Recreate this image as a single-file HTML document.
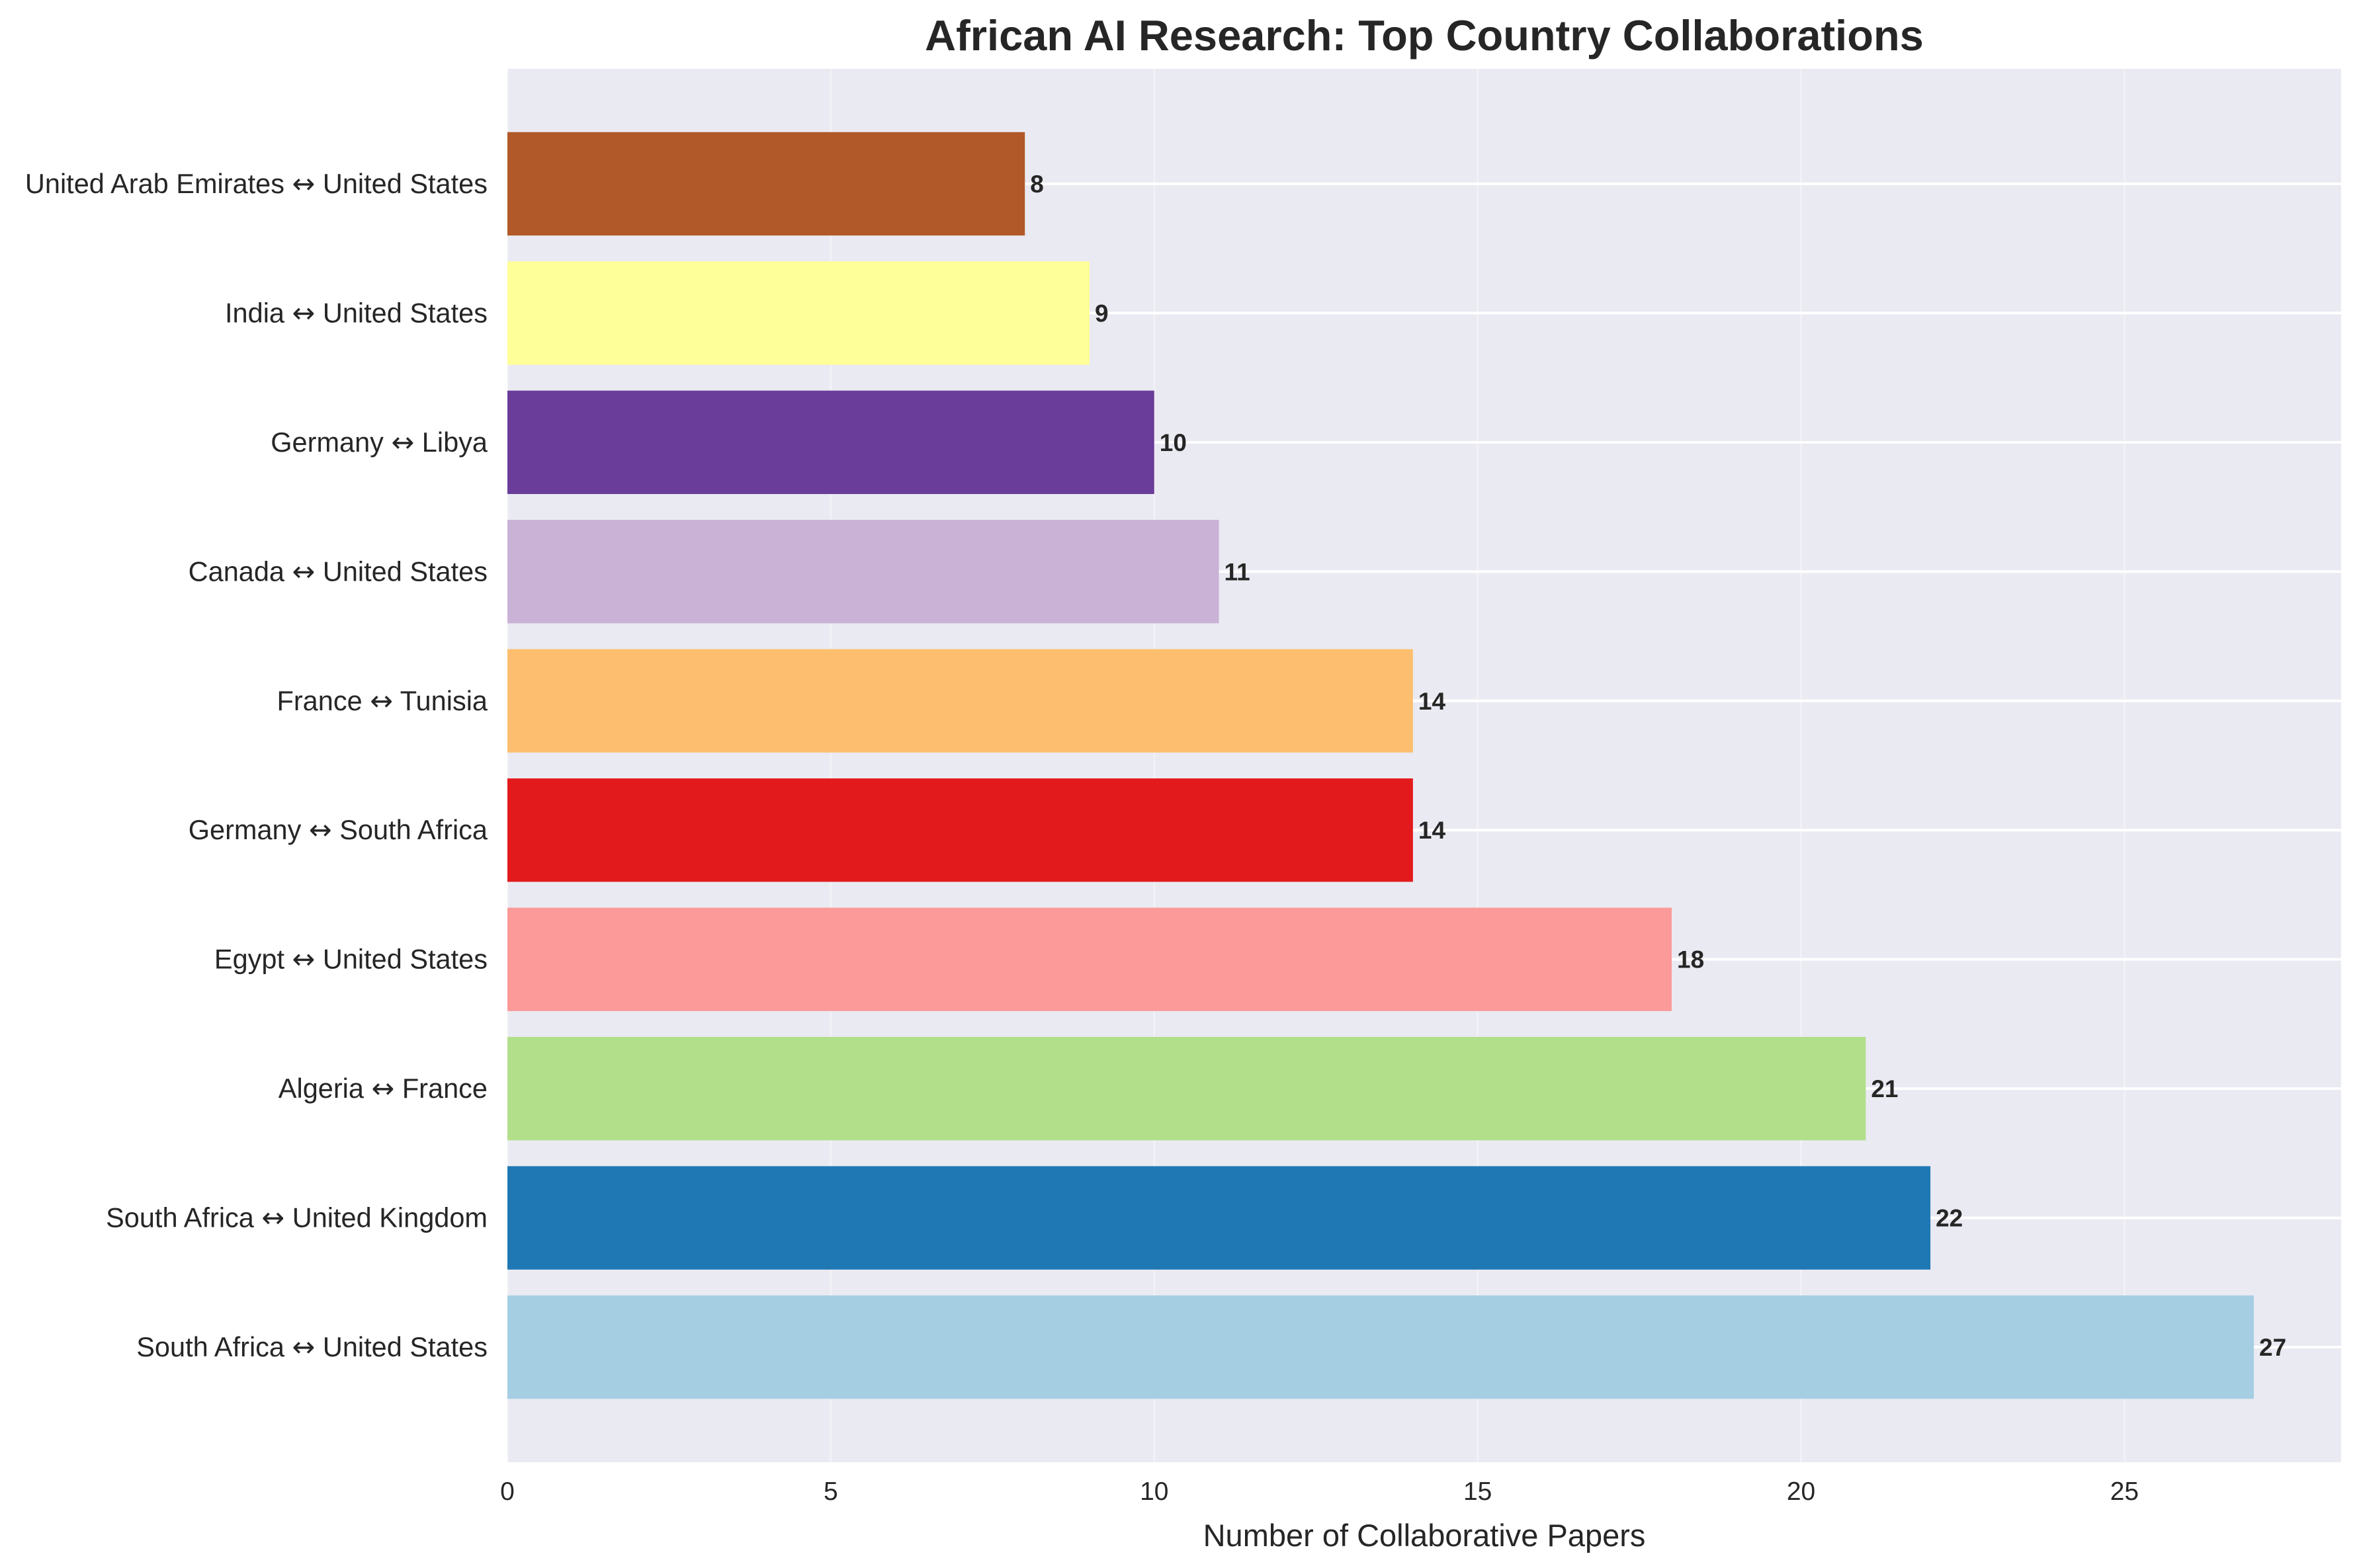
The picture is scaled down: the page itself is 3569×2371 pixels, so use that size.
<!DOCTYPE html>
<html><head><meta charset="utf-8"><style>
html,body{margin:0;padding:0;background:#fff;}
svg{display:block;font-family:"Liberation Sans",sans-serif;}
</style></head><body>
<svg id="chart" width="3569" height="2371" viewBox="0 0 3569 2371" xmlns="http://www.w3.org/2000/svg">
<rect x="767" y="104" width="2772" height="2107" fill="#eaeaf2"/>
<g id="grid"></g><g id="bars"></g><g id="xt"></g><g id="yt"></g><g id="vals"></g>
<text x="2153" y="76" text-anchor="middle" font-size="65" font-weight="bold" fill="#262626">African AI Research: Top Country Collaborations</text>
<text x="2153" y="2338" text-anchor="middle" font-size="47" fill="#262626">Number of Collaborative Papers</text>
</svg>
<script>
const categories=["South Africa ↔ United States","South Africa ↔ United Kingdom","Algeria ↔ France","Egypt ↔ United States","Germany ↔ South Africa","France ↔ Tunisia","Canada ↔ United States","Germany ↔ Libya","India ↔ United States","United Arab Emirates ↔ United States"];
const values=[27,22,21,18,14,14,11,10,9,8];
const colors=["#a6cee3","#1f78b4","#b2df8a","#fb9a99","#e31a1c","#fdbf6f","#cab2d6","#6a3d9a","#ffff99","#b15928"];
const xTicks=[0,5,10,15,20,25];
const X0=767,X1=3539,Y0=104,Y1=2211,XMAX=28.35;
const yMin=-0.89,yMax=9.89;
function xs(v){return X0+v/XMAX*(X1-X0);}
function ys(i){return Y1-(i-yMin)/(yMax-yMin)*(Y1-Y0);}
const NS="http://www.w3.org/2000/svg";
function mk(t,a,p){const e=document.createElementNS(NS,t);for(const k in a)e.setAttribute(k,a[k]);(typeof p==='string'?document.getElementById(p):p).appendChild(e);return e;}
const bw=0.8*(Y1-Y0)/(yMax-yMin);
xTicks.forEach(t=>{
  const g=mk('line',{x1:xs(t),x2:xs(t),y1:Y0,y2:Y1,stroke:'#fff','stroke-width':3,'stroke-opacity':0.35},'grid');
  
  
  const l=mk('text',{x:xs(t),y:Y1+57,'text-anchor':'middle','font-size':39,fill:'#262626'},'xt');
  l.textContent=t;
  
  
});
categories.forEach((c,i)=>{
  const gl=mk('line',{x1:X0,x2:X1,y1:ys(i),y2:ys(i),stroke:'#fff','stroke-width':4},'grid');
  
  
  const r=mk('rect',{x:X0,y:ys(i)-bw/2,width:xs(values[i])-X0,height:bw,fill:colors[i]},'bars');
  
  
  const t=mk('text',{x:X0-30,y:ys(i)+14,'text-anchor':'end','font-size':41.5,fill:'#262626'},'yt');
  
  
  const parts=c.split('↔');
  const s1=mk('tspan',{},t); s1.textContent=parts[0];
  const s2=mk('tspan',{'font-family':'DejaVu Sans'},t); s2.textContent='↔';
  const s3=mk('tspan',{},t); s3.textContent=parts[1];
  const v=mk('text',{x:xs(values[i])+8,y:ys(i)+13,'font-size':37,'font-weight':'bold',fill:'#262626'},'vals');
  v.textContent=values[i];
  
  
});
</script>
</body></html>
